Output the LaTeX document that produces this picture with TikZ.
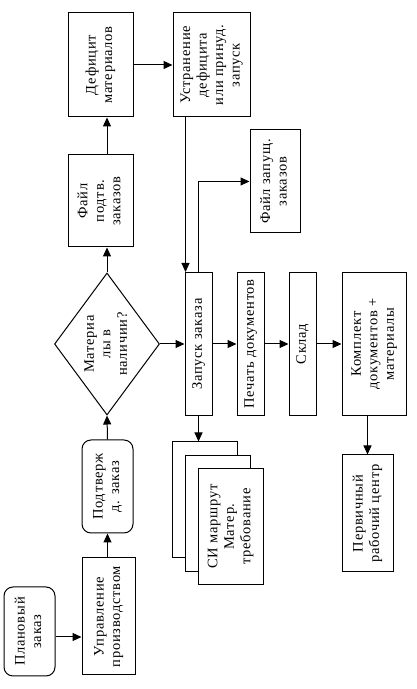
\documentclass[tikz,border=0pt]{standalone}
\usepackage{graphicx}
\usepackage{fontspec}
\setmainfont{Liberation Serif}[LetterSpace=5]
\usetikzlibrary{arrows.meta, shapes.geometric}

\newcommand{\rotlabel}[1]{\rotatebox{90}{\begin{tabular}{@{}c@{}}#1\end{tabular}}}

\begin{document}
\begin{tikzpicture}[
    x=1pt, y=1pt,
    box style/.style={draw=black, line width=1pt, inner sep=0pt, font=\fontsize{14.5}{16.5}\selectfont},
    round style/.style={box style, rounded corners=9pt},
    ask style/.style={box style, diamond, aspect=0.74, inner sep=0pt},
    doc style/.style={box style, fill=white, minimum width=65pt, minimum height=116pt},
    arrow style/.style={line width=1pt, -{Triangle[length=9pt, width=8pt]}}
]
        \useasboundingbox (0,0) rectangle (416,689);

        \node[round style, minimum width=51pt, minimum height=89pt] (plan) at (29.5,57.5) {\rotlabel{Плановый\\заказ}};
        \node[box style, minimum width=53pt, minimum height=117pt] (upr) at (108.5,72.5) {\rotlabel{Управление\\производством}};
        \node[round style, minimum width=51pt, minimum height=93pt] (podtv) at (107.5,202.5) {\rotlabel{Подтверж\\д. заказ}};
        \node[ask style, minimum width=105pt, minimum height=142pt] (diam) at (107,345) {\rotlabel{Материа\\лы в\\наличии?}};
        \node[box style, minimum width=65pt, minimum height=92pt] (fpodtv) at (100.5,488) {\rotlabel{Файл\\подтв.\\заказов}};
        \node[box style, minimum width=65pt, minimum height=104pt] (defic) at (100.5,624) {\rotlabel{Дефицит\\материалов}};
        \node[box style, minimum width=77pt, minimum height=104pt] (ustr) at (211.5,624) {\rotlabel{Устранение\\дефицита\\или принуд.\\запуск}};
        \node[box style, minimum width=50pt, minimum height=103pt] (fzap) at (275,507.5) {\rotlabel{Файл запущ.\\заказов}};
        \node[box style, minimum width=27pt, minimum height=143pt] (zap) at (198.5,345) {\rotlabel{Запуск заказа}};
        \node[box style, minimum width=27pt, minimum height=143pt] (pech) at (250.5,345) {\rotlabel{Печать документов}};
        \node[box style, minimum width=27pt, minimum height=143pt] (sklad) at (302.5,345) {\rotlabel{Склад}};
        \node[box style, minimum width=64pt, minimum height=143pt] (kompl) at (374,345) {\rotlabel{Комплект\\документов +\\материалы}};
        \node[box style, minimum width=51pt, minimum height=117pt] (perv) at (367.5,175.5) {\rotlabel{Первичный\\рабочий центр}};

        % stacked documents
        \node[doc style] (doc1) at (204.5,189) {};
        \node[doc style] (doc2) at (218,175.5) {};
        \node[doc style] (doc3) at (230.5,162.5) {\rotlabel{СИ маршрут\\Матер.\\требование}};

        \draw[arrow style] ([yshift=-5.5pt]plan.east) -- ([yshift=-5.5pt]plan.east -| upr.west);
        \draw[arrow style] (podtv.south |- upr.north) -- (podtv.south);
        \draw[arrow style] (podtv.north) -- (diam.south);
        \draw[arrow style] (diam.north) -- (diam.north |- fpodtv.south);
        \draw[arrow style] (diam.north |- fpodtv.north) -- (diam.north |- defic.south);
        \draw[arrow style] (defic.east) -- (ustr.west);
        \draw[arrow style] ([xshift=1pt]ustr.south -| zap.north west) -- ([xshift=1pt]zap.north west);
        \draw[arrow style] (zap.north) |- (fzap.west);
        \draw[arrow style] (diam.east) -- (zap.west);
        \draw[arrow style] (zap.east) -- (pech.west);
        \draw[arrow style] (pech.east) -- (sklad.west);
        \draw[arrow style] (sklad.east) -- (kompl.west);
        \draw[arrow style] (zap.south) -- (zap.south |- doc1.north);
        \draw[arrow style] (perv.north |- kompl.south) -- (perv.north);
    \end{tikzpicture}
\end{document}
